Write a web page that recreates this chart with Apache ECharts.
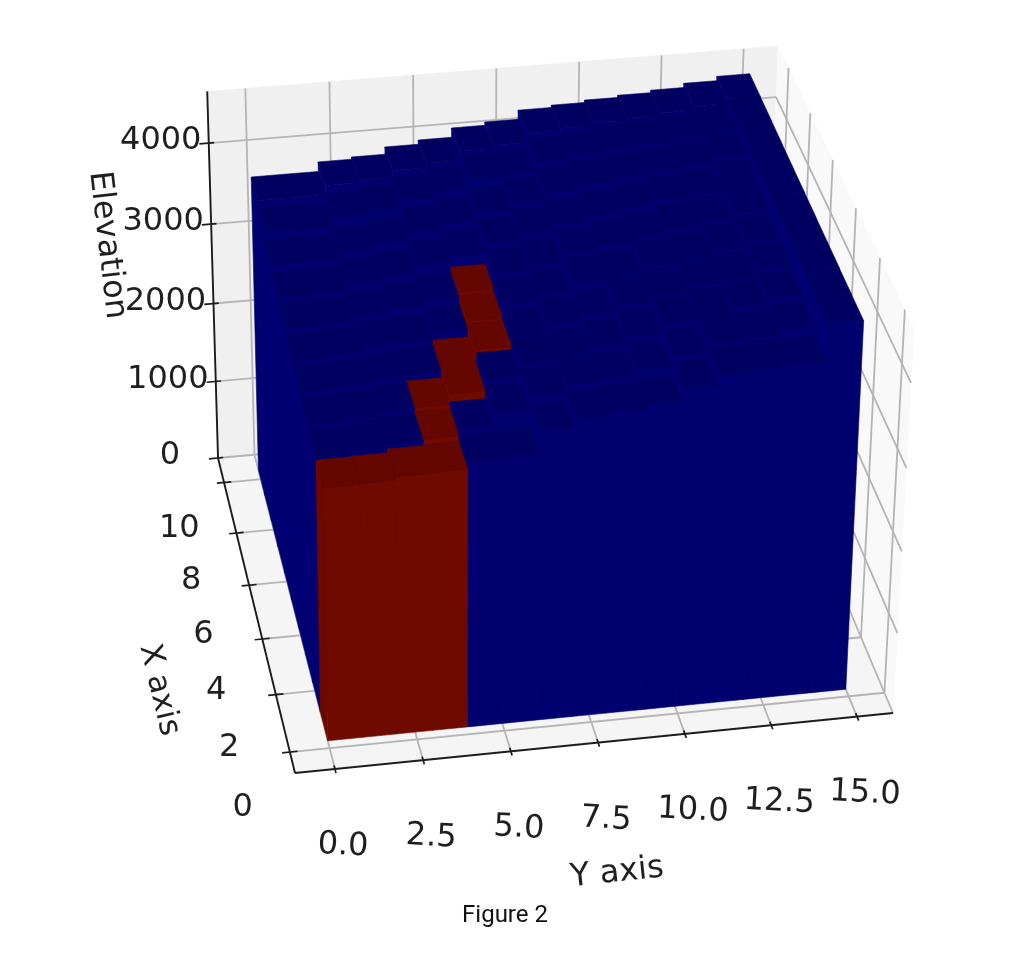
<!DOCTYPE html>
<html><head><meta charset="utf-8">
<style>html,body{margin:0;padding:0;background:#fff}#c{width:1010px;height:964px;filter:blur(0.6px)}#cap{position:absolute;left:0;top:896px;width:1010px;height:40px}</style>
<script src="https://cdn.jsdelivr.net/npm/echarts@6/dist/echarts.min.js"></script>
</head><body><div id="c"></div><div id="cap"></div>
<script>
// ---- data ----
const xTickLabels = [0, 2, 4, 6, 8, 10];
const xTickMarks = [2, 4, 6, 8, 10, 12];
const yTickValues = [0, 2.5, 5, 7.5, 10, 12.5, 15];
const zTickValues = [0, 1000, 2000, 3000, 4000];
const elevationRows = [
 [3076,3086,3130,3140,3221,3240,3515,3620,3666,3698,3863,3980,4013,4022,4463],
 [3110,3150,3190,3210,3290,3440,3610,3700,3720,3810,3930,4030,4060,4120,4466],
 [3170,3200,3240,3260,3380,3520,3650,3720,3790,3880,3990,4050,4110,4180,4470],
 [3240,3260,3300,3330,3400,3560,3680,3780,3850,3950,4020,4090,4140,4230,4472],
 [3300,3330,3390,3400,3480,3590,3760,3830,3930,3980,4060,4120,4180,4260,4475],
 [3370,3390,3440,3490,3560,3630,3820,3880,3980,4040,4100,4170,4220,4300,4478],
 [3440,3460,3530,3590,3680,3760,3880,3960,4040,4110,4170,4220,4260,4330,4480],
 [3530,3540,3620,3680,3780,3860,3960,4040,4130,4190,4230,4270,4310,4380,4484],
 [3640,3620,3740,3790,3880,3950,4070,4090,4210,4250,4290,4320,4350,4410,4488],
 [3723,3723,3840,3867,3956,4008,4122,4162,4274,4302,4331,4357,4387,4438,4491]
];
const riverCells = ['0-0','0-1','0-2','0-3','1-3','2-3','2-4','3-4','3-5','4-5','5-5'];

// ---- 3D box and camera ----
const xLim = [1.286, 12.995], yLim = [-1.129, 16.05], zLim = [0, 4628];
const rowOrigin = 2.25, rowDepth = 1.012, colWidth = 1;
function project(x, y, z) {
  const u = (x - xLim[0]) / (xLim[1] - xLim[0]);
  const v = (y - yLim[0]) / (yLim[1] - yLim[0]);
  const w = (z - zLim[0]) / (zLim[1] - zLim[0]);
  const d = 1 + 0.0985 * u + 0.0184 * v - 0.047 * w;
  return [(295 - 55.5 * u + 614.4 * v - 21.6 * w) / d,
          (773 - 269.9 * u - 46.9 * v - 407 * w) / d];
}
const faces = {
  blue: { top: '#000061', front: '#00006e', left: '#000072' },
  red: { top: '#630700', front: '#6f0a00', left: '#6c0800' }
};
const P = (api, x, y, z) => api.coord(project(x, y, z));
function poly(points, fill) {
  return { type: 'polygon', shape: { points }, style: { fill, stroke: fill, lineWidth: 0.6 }, silent: true };
}
function line(a, b, stroke, lineWidth) {
  return { type: 'line', shape: { x1: a[0], y1: a[1], x2: b[0], y2: b[1] }, style: { stroke, lineWidth, fill: 'none' }, silent: true };
}
function label(text, p, rot, size, fill) {
  return { type: 'text', x: p[0], y: p[1], rotation: (rot || 0) * Math.PI / 180, silent: true,
    style: { text: String(text), fontFamily: 'DejaVu Sans', fontSize: size, fill: fill || '#1f1f1f', align: 'center', verticalAlign: 'middle' } };
}
const [x0, x1] = xLim, [y0, y1] = yLim, [z0, z1] = zLim;

function renderBox(params, api) {
  const c = (x, y, z) => P(api, x, y, z);
  const ch = [];
  ch.push(poly([c(x0,y0,z0), c(x0,y1,z0), c(x1,y1,z0), c(x1,y0,z0)], '#f5f5f5'));
  ch.push(poly([c(x1,y0,z0), c(x1,y1,z0), c(x1,y1,z1), c(x1,y0,z1)], '#f0f0f0'));
  ch.push(poly([c(x0,y1,z0), c(x1,y1,z0), c(x1,y1,z1), c(x0,y1,z1)], '#f9f9f9'));
  const G = '#b4b4b4', W = 1.8;
  xTickMarks.forEach(x => {
    ch.push(line(c(x,y0,z0), c(x,y1,z0), G, W));
    ch.push(line(c(x,y1,z0), c(x,y1,z1), G, W));
  });
  yTickValues.forEach(y => {
    ch.push(line(c(x0,y,z0), c(x1,y,z0), G, W));
    ch.push(line(c(x1,y,z0), c(x1,y,z1), G, W));
  });
  zTickValues.forEach(z => {
    ch.push(line(c(x1,y0,z), c(x1,y1,z), G, W));
    ch.push(line(c(x1,y1,z), c(x0,y1,z), G, W));
  });
  return { type: 'group', children: ch };
}

function renderBar(params, api) {
  const r = api.value(0), k = api.value(1), h = api.value(2);
  const xa = rowOrigin + r * rowDepth, xb = xa + rowDepth, ya = k, yb = k + colWidth;
  const f = riverCells.includes(r + '-' + k) ? faces.red : faces.blue;
  const c = (x, y, z) => P(api, x, y, z);
  return { type: 'group', children: [
    poly([c(xa,ya,0), c(xb,ya,0), c(xb,ya,h), c(xa,ya,h)], f.left),
    poly([c(xa,ya,0), c(xa,yb,0), c(xa,yb,h), c(xa,ya,h)], f.front),
    poly([c(xa,ya,h), c(xa,yb,h), c(xb,yb,h), c(xb,ya,h)], f.top)
  ] };
}

function renderAxes(params, api) {
  const c = (x, y, z) => P(api, x, y, z);
  const A = '#1c1c1c', ch = [];
  ch.push(line(c(x0,y0,z0), c(x1,y0,z0), A, 1.9));
  ch.push(line(c(x0,y0,z0), c(x0,y1,z0), A, 1.9));
  ch.push(line(c(x1,y0,z0), c(x1,y0,z1), A, 1.9));
  xTickMarks.forEach(x => ch.push(line(c(x,y0-0.22,z0), c(x,y0+0.22,z0), A, 1.7)));
  yTickValues.forEach(y => ch.push(line(c(x0-0.14,y,z0), c(x0+0.12,y,z0), A, 1.7)));
  zTickValues.forEach(z => ch.push(line(c(x1,y0-0.28,z), c(x1,y0+0.16,z), A, 1.7)));
  xTickLabels.forEach(x => {
    const p = c(x, y0 - 1.72, z0);
    ch.push(label(x, [p[0], p[1] - 10], 0, 32));
  });
  yTickValues.forEach(y => {
    const p = c(x0, y, z0);
    ch.push(label(y.toFixed(1), [p[0] + 8, p[1] + 77], -3, 32));
  });
  zTickValues.forEach(z => {
    const p = c(x1, y0, z);
    ch.push(label(z, [p[0] - 48, p[1] - 2], 0, 32));
  });
  ch.push(label('X axis', [159, 690], -76.5, 31));
  ch.push(label('Y axis', [617, 873], 6, 32));
  ch.push(label('Elevation', [107, 245], -83.4, 32));
  return { type: 'group', children: ch };
}

const barData = [];
for (let r = elevationRows.length - 1; r >= 0; r--) {
  for (let k = elevationRows[r].length - 1; k >= 0; k--) {
    barData.push([r, k, elevationRows[r][k]]);
  }
}
const chart = echarts.init(document.getElementById('c'));
chart.setOption({
  animation: false,
  backgroundColor: '#ffffff',
  grid: { left: 0, right: 0, top: 0, bottom: 0 },
  xAxis: { type: 'value', min: 0, max: 1010, show: false },
  yAxis: { type: 'value', min: 0, max: 964, inverse: true, show: false },
  series: [
    { type: 'custom', name: 'box', coordinateSystem: 'cartesian2d', clip: false, silent: true, renderItem: renderBox, data: [[0, 0]], z: 1 },
    { type: 'custom', name: 'Elevation', coordinateSystem: 'cartesian2d', clip: false, silent: true, renderItem: renderBar, data: barData, z: 2 },
    { type: 'custom', name: 'axes', coordinateSystem: 'cartesian2d', clip: false, silent: true, renderItem: renderAxes, data: [[0, 0]], z: 3 }
  ]
});
const caption = echarts.init(document.getElementById('cap'));
caption.setOption({
  animation: false,
  title: { text: 'Figure 2', left: 'center', top: 'middle', textStyle: { fontFamily: 'Roboto', fontSize: 24, fontWeight: 'normal', color: '#111' } }
});
</script></body></html>
